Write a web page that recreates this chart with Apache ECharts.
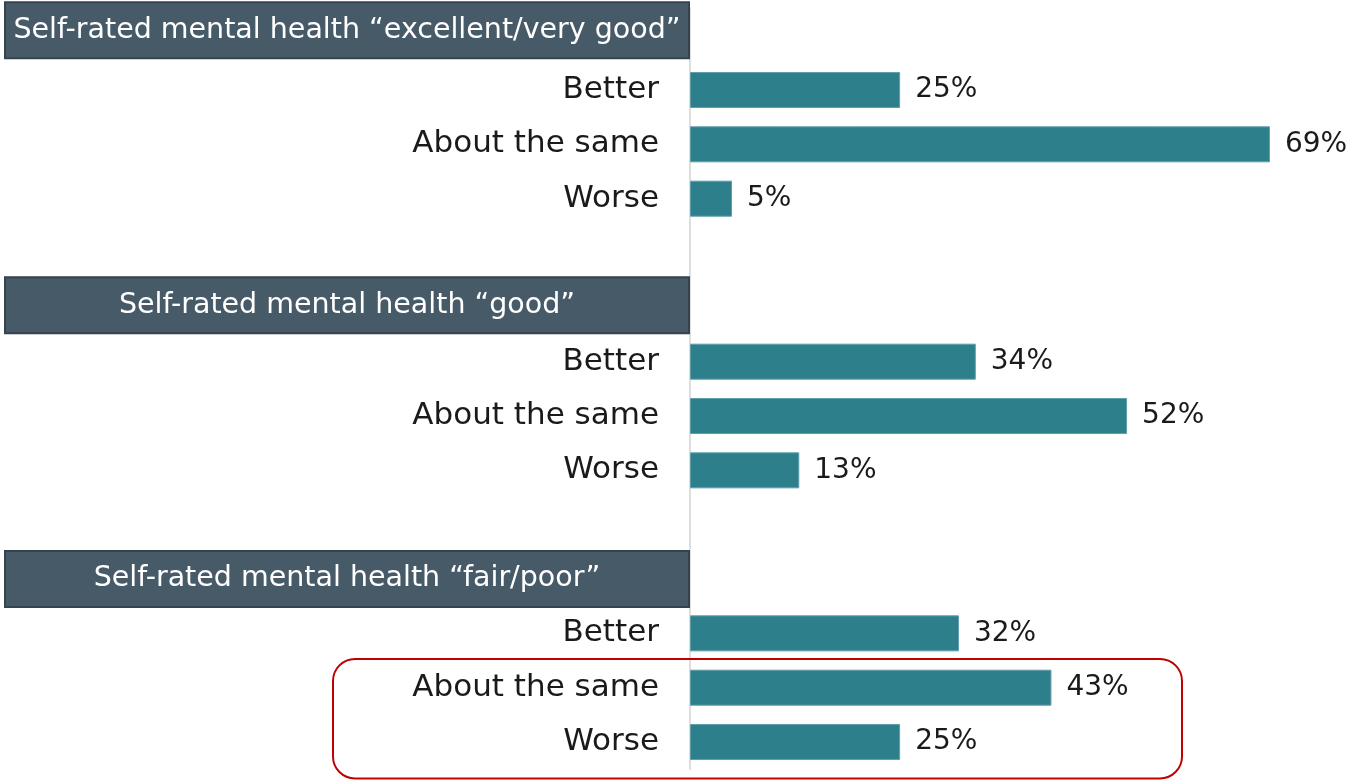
<!DOCTYPE html>
<html>
<head>
<meta charset="utf-8">
<script src="https://cdn.jsdelivr.net/npm/echarts@6/dist/echarts.min.js"></script>
<style>
  html, body { margin: 0; padding: 0; background: #ffffff; }
  #chart { width: 1350px; height: 782px; }
</style>
</head>
<body>
<div id="chart"></div>
<script>
// Group headings and response options
const groupTitles = [
  'Self-rated mental health \u201Cexcellent/very good\u201D',
  'Self-rated mental health \u201Cgood\u201D',
  'Self-rated mental health \u201Cfair/poor\u201D'
];
const responses = ['Better', 'About the same', 'Worse'];

// Share of respondents (%) per group, in the order of `responses`
const excellentVeryGood = [25, 69, 5];
const good = [34, 52, 13];
const fairPoor = [32, 43, 25];

const groupValues = [excellentVeryGood, good, fairPoor];

// Heading banners sit slightly above their row centre
const headerLift = [11, 4, 0];

// Build one category row per heading, response and spacer
const categories = [];
const values = [];
const headerRows = new Set();
groupTitles.forEach((title, g) => {
  headerRows.add(categories.length);
  categories.push({ value: title, textStyle: { padding: [0, 0, headerLift[g], 0] } });
  values.push(null);
  responses.forEach((r, i) => {
    categories.push(r);
    values.push(groupValues[g][i]);
  });
  if (g < groupTitles.length - 1) {
    categories.push('');
    values.push(null);
  }
});

const FONT = 'DejaVu Sans';
const chart = echarts.init(document.getElementById('chart'), null, { renderer: 'canvas' });

const option = {
  animation: false,
  grid: { left: 690, right: 29.6, top: 8.5, bottom: 12.8, containLabel: false },
  xAxis: {
    type: 'value',
    min: 0,
    max: 75,
    show: false
  },
  yAxis: {
    type: 'category',
    inverse: true,
    data: categories,
    axisLine: { show: true, lineStyle: { color: '#dedede', width: 2 } },
    axisTick: { show: false },
    splitLine: { show: false },
    axisLabel: {
      margin: 2,
      interval: 0,
      fontFamily: FONT,
      formatter: (value, index) => {
        if (value === '') return '';
        return headerRows.has(index) ? '{hdr|' + value + '}' : '{lbl|' + value + '}';
      },
      rich: {
        hdr: {
          fontFamily: FONT,
          fontSize: 28.5,
          color: '#ffffff',
          backgroundColor: '#475a68',
          borderColor: '#34434d',
          borderWidth: 2,
          width: 682,
          height: 54,
          align: 'center',
          verticalAlign: 'middle'
        },
        lbl: {
          fontFamily: FONT,
          fontSize: 31,
          color: '#1a1a1a',
          padding: [0, 29, 0, 0]
        }
      }
    }
  },
  series: [{
    type: 'bar',
    data: values,
    barWidth: 36,
    itemStyle: { color: '#2d7f8b', borderColor: '#5f9faa', borderWidth: 1 },
    label: {
      show: true,
      position: 'right',
      distance: 15,
      fontFamily: FONT,
      fontSize: 28,
      color: '#1a1a1a',
      formatter: p => p.value + '%'
    }
  }]
};

chart.setOption(option);

// Rounded red frame around the last two "fair/poor" rows
const sameRow = categories.length - 2;
const worseRow = categories.length - 1;
const ySame = chart.convertToPixel({ yAxisIndex: 0 }, sameRow);
const yWorse = chart.convertToPixel({ yAxisIndex: 0 }, worseRow);
const slot = yWorse - ySame;
chart.setOption({
  graphic: [{
    type: 'rect',
    shape: {
      x: 333,
      y: ySame - 0.53 * slot,
      width: 849,
      height: (yWorse - ySame) + 1.2 * slot,
      r: 22
    },
    style: { fill: 'none', stroke: '#c00000', lineWidth: 2 },
    z: 10
  }]
});
</script>
</body>
</html>
